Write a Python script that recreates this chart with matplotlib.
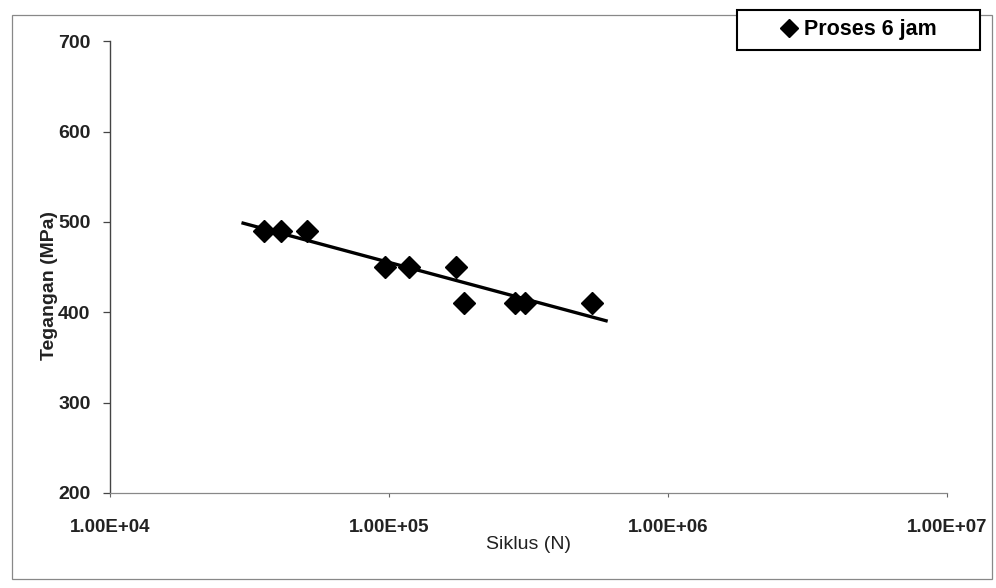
import matplotlib
matplotlib.use('Agg')
import matplotlib.pyplot as plt
import numpy as np
from matplotlib.patches import Rectangle

plt.rcParams['font.family'] = ['Liberation Sans', 'DejaVu Sans']

# Data: fatigue test, 6 hour process
siklus = [35600, 41000, 50800, 96800, 118000, 174000, 186000, 283000, 308000, 535000]
tegangan = [490, 490, 490, 450, 450, 450, 410, 410, 410, 410]
series_label = 'Proses 6 jam'

# trendline range (log fit)
trend_range = [30000, 600000]

x_ticks = [1e4, 1e5, 1e6, 1e7]
x_ticklabels = ['1.00E+04', '1.00E+05', '1.00E+06', '1.00E+07']
y_ticks = [200, 300, 400, 500, 600, 700]

fig = plt.figure(figsize=(9.96, 5.88), dpi=100)
fig.patch.set_facecolor('white')

# outer chart frame
fig.patches.append(Rectangle((0.012, 0.016), 0.984, 0.958, transform=fig.transFigure,
                             fill=False, edgecolor='#888888', linewidth=0.9))

ax = fig.add_axes([0.1104, 0.1616, 0.8404, 0.7684])
ax.set_xscale('log')
ax.set_xlim(1e4, 1e7)
ax.set_ylim(200, 700)

ax.plot(siklus, tegangan, linestyle='none', marker='D', markersize=11,
        color='black', label=series_label, zorder=3)

# logarithmic trendline
coef = np.polyfit(np.log10(siklus), tegangan, 1)
tx = np.logspace(np.log10(trend_range[0]), np.log10(trend_range[1]), 50)
ax.plot(tx, np.polyval(coef, np.log10(tx)), color='black', linewidth=2.4, zorder=2)

ax.set_xticks(x_ticks)
ax.set_xticklabels(x_ticklabels, fontsize=13.5, fontweight='bold', color='#222222')
ax.minorticks_off()
ax.set_yticks(y_ticks)
ax.set_yticklabels([str(v) for v in y_ticks], fontsize=14, fontweight='bold', color='#222222')

ax.tick_params(axis='x', direction='out', length=3, width=0.8, pad=16, colors='#666666',
               labelcolor='#222222')
ax.tick_params(axis='y', direction='out', length=5, width=0.9, pad=9, colors='#444444',
               labelcolor='#222222')

for s in ['top', 'right']:
    ax.spines[s].set_visible(False)
ax.spines['left'].set_color('#444444')
ax.spines['left'].set_linewidth(1.0)
ax.spines['bottom'].set_color('#888888')
ax.spines['bottom'].set_linewidth(0.9)

ax.set_xlabel('Siklus (N)', fontsize=14, color='#222222')
ax.xaxis.set_label_coords(0.5, -0.095)
ax.set_ylabel('Tegangan (MPa)', fontsize=14, fontweight='bold', color='#222222')
ax.yaxis.set_label_coords(-0.062, 0.46)

# legend box (wide, Excel style)
fig.patches.append(Rectangle((0.740, 0.915), 0.244, 0.068, transform=fig.transFigure,
                             fill=True, facecolor='white', edgecolor='black',
                             linewidth=1.5, zorder=5))
leg = fig.legend(loc='center', bbox_to_anchor=(0.8625, 0.949), frameon=False,
                 handlelength=0.7, handletextpad=0.35, borderpad=0, markerscale=0.8,
                 prop={'weight': 'bold', 'size': 15.5})
leg.set_zorder(6)

fig.savefig('out.png', dpi=100, facecolor='white')
